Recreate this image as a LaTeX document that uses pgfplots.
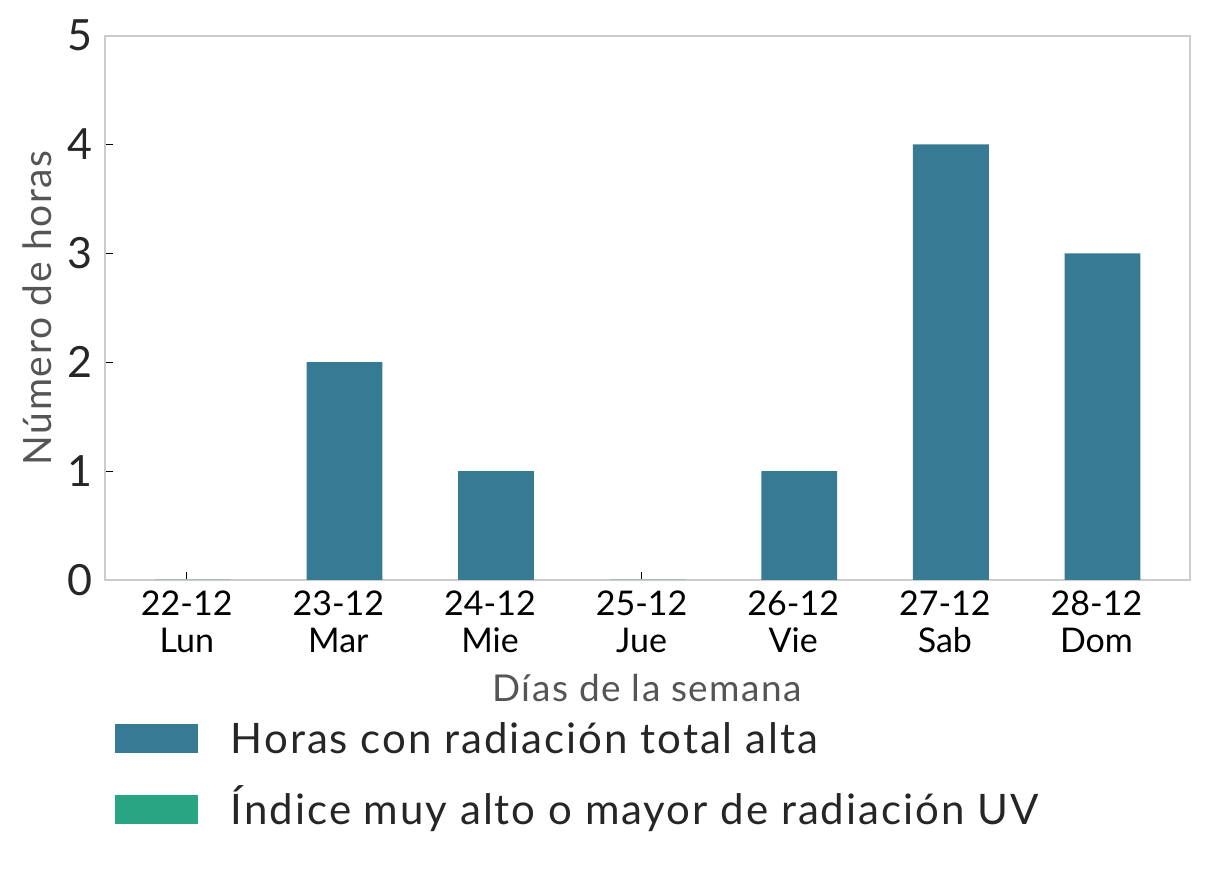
\documentclass[border=0pt]{standalone}
\usepackage{fontspec}
\setmainfont{Lato}
\newfontfamily\wide[LetterSpace=4]{Lato}
\newfontfamily\widel[LetterSpace=4.7]{Lato}
\usepackage{pgfplots}
\pgfplotsset{compat=1.18}
\definecolor{cteal}{HTML}{377A93}
\definecolor{cgreen}{HTML}{2AA584}
\definecolor{cframe}{HTML}{CCCCCC}
\definecolor{clabel}{HTML}{555555}
\definecolor{ctick}{HTML}{262626}
\begin{document}
\begin{tikzpicture}
\begin{axis}[
  name=ax,
  scale only axis,
  width=542.5pt, height=272.2pt,
  xmin=-0.539, xmax=6.617, ymin=0, ymax=5,
  axis line style={cframe, line width=1pt},
  tick align=inside,
  xtick pos=lower, ytick pos=left,
  major tick length=4pt,
  tick style={black, line width=0.5pt},
  xtick={0,1,2,3,4,5,6},
  xticklabels={{22-12\\Lun},{23-12\\Mar},{24-12\\Mie},{25-12\\Jue},{26-12\\Vie},{27-12\\Sab},{28-12\\Dom}},
  xticklabel style={align=center, font=\fontsize{17}{18.5}\selectfont, text=black, inner sep=0pt, anchor=north, yshift=-5pt},
  ytick={0,1,2,3,4,5},
  yticklabel style={font=\fontsize{21.5}{24}\selectfont, text=ctick, inner sep=0pt, anchor=east, xshift=-6pt},
  /pgf/number format/assume math mode=true,
  xlabel={Días de la semana},
  ylabel={Número de horas},
  xlabel style={at={(axis description cs:0.5,-0.1984)}, anchor=center, font=\wide\fontsize{18.5}{20}\selectfont, text=clabel},
  ylabel style={at={(axis description cs:-0.0627,0.5)}, anchor=center, font=\wide\fontsize{19.5}{22}\selectfont, text=clabel},
  legend image code/.code={\fill[#1] (0pt,-7.25pt) rectangle (41.5pt,7.25pt);},
  legend cell align=left,
  legend style={draw=none, fill=none, inner sep=0pt, outer sep=0pt,
    at={(axis description cs:0.0092,-0.2627)}, anchor=north west,
    font=\widel\fontsize{21}{24}\selectfont, text=ctick,
    row sep=20.5pt,
    nodes={inner sep=0pt, text height=15pt, text depth=0pt},
    /tikz/every odd column/.style={column sep=16.5pt}},
]
\addplot[ybar, bar width=0.5, bar shift=0.04, fill=cteal, draw=none]
  coordinates {(0,0) (1,2) (2,1) (3,0) (4,1) (5,4) (6,3)};
\addlegendentry{Horas con radiación total alta}
\addplot[ybar, bar width=0.5, bar shift=0.04, fill=cgreen, draw=none]
  coordinates {(0,0) (1,0) (2,0) (3,0) (4,0) (5,0) (6,0)};
\addlegendentry{Índice muy alto o mayor de radiación UV}
\end{axis}
\pgfresetboundingbox
\useasboundingbox (-52.5pt,-145.5pt) rectangle (552pt,290pt);
\end{tikzpicture}
\end{document}
